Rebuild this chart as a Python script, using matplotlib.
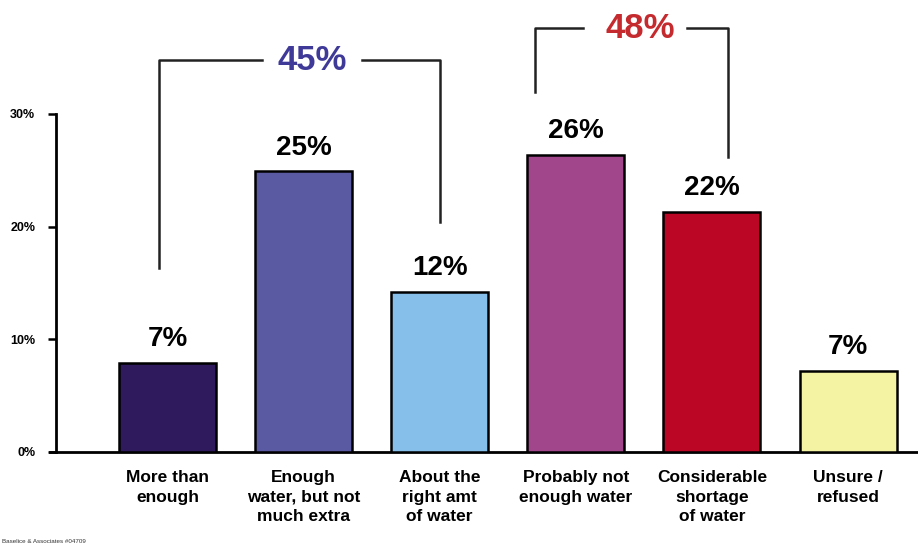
import matplotlib.pyplot as plt

plt.rcParams['font.family'] = ['Liberation Sans', 'DejaVu Sans']
plt.rcParams['font.weight'] = 'bold'

# Dados
categorias = ['More than\nenough', 'Enough\nwater, but not\nmuch extra', 'About the\nright amt\nof water',
              'Probably not\nenough water', 'Considerable\nshortage\nof water', 'Unsure /\nrefused']
valores = [7.9, 24.9, 14.2, 26.4, 21.3, 7.2]
rotulos = ['7%', '25%', '12%', '26%', '22%', '7%']
cores = ['#2e1a5c', '#5a5aa2', '#86bfea', '#a2468c', '#bc0626', '#f4f3a4']

grupos = [(0, 2), (3, 4)]
totais = ['45%', '48%']
cores_totais = ['#3f3a98', '#c42a2e']

ticks = [0, 10, 20, 30]
tick_labels = ['0%', '10%', '20%', '30%']

fig = plt.figure(figsize=(9.18, 5.48), dpi=100)
ax = fig.add_axes([56 / 918, 1 - 452 / 548, 1 - 56 / 918, (452 - 114) / 548])

x = list(range(len(valores)))
ax.bar(x, valores, width=0.713, color=cores, edgecolor='black', linewidth=1.8, zorder=3)

for xi, v, r in zip(x, valores, rotulos):
    ax.annotate(r, (xi, v), xytext=(0, 12), textcoords='offset points',
                ha='center', va='baseline', fontsize=20, fontweight='bold')

ax.set_xlim(-0.819, 5.514)
ax.set_ylim(0, 30)
ax.set_yticks(ticks)
ax.set_yticklabels(tick_labels, fontsize=9, fontweight='bold')
ax.tick_params(axis='y', length=6, width=1.8, pad=9)
ax.set_xticks(x)
ax.set_xticklabels(categorias, fontsize=12.5, fontweight='bold', linespacing=1.38, va='top')
ax.tick_params(axis='x', length=0, pad=13)

for s in ['top', 'right']:
    ax.spines[s].set_visible(False)
ax.spines['left'].set_linewidth(2)
ax.spines['bottom'].set_linewidth(2)
ax.spines['bottom'].set_bounds(-0.86, 5.514)


def px2x(px):
    return (px - 167.5) / 136.1


def py2y(py):
    return (452 - py) / 11.27


# Colchetes com os totais dos grupos
colchetes = [
    # (x esq, x dir, y topo, y base esq, y base dir, fim da linha esq, início da linha dir, x texto)
    (159, 440, 60, 268, 222, 262, 362, 312),
    (535, 728, 28, 92, 157, 583, 687, 640),
]
for (xe, xd, yt, ye, yd, le, ld, xt), tot, cor in zip(colchetes, totais, cores_totais):
    kw = dict(color='#222222', linewidth=1.8, clip_on=False, zorder=4)
    ax.plot([px2x(xe), px2x(xe), px2x(le)], [py2y(ye), py2y(yt), py2y(yt)], **kw)
    ax.plot([px2x(ld), px2x(xd), px2x(xd)], [py2y(yt), py2y(yt), py2y(yd)], **kw)
    ax.text(px2x(xt), py2y(yt), tot, color=cor, fontsize=25, fontweight='bold',
            ha='center', va='center')

fig.text(0.002, 0.008, 'Baselice & Associates #04709', fontsize=4.5, fontweight='normal',
         ha='left', va='bottom', color='#333333')

fig.savefig('out.png', dpi=100)
